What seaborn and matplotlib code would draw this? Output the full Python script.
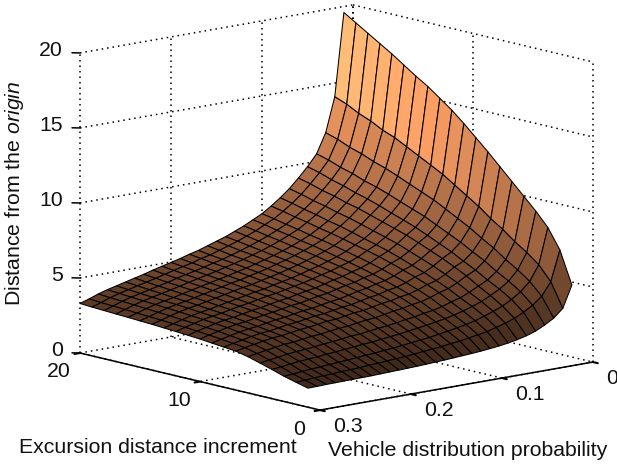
import numpy as np
import matplotlib
matplotlib.use("Agg")
import matplotlib.pyplot as plt
from matplotlib.colors import Normalize
from mpl_toolkits.mplot3d import proj3d
import seaborn as sns

# axis values
probability = [0.01, 0.02, 0.03, 0.04, 0.05, 0.06, 0.07, 0.08, 0.09, 0.10,
               0.11, 0.12, 0.13, 0.14, 0.15, 0.16, 0.17, 0.18, 0.19, 0.20,
               0.21, 0.22, 0.23, 0.24, 0.25, 0.26, 0.27, 0.28, 0.29, 0.30]
increment = [1, 2, 3, 4, 5, 6, 7, 8, 9, 10, 11, 12, 13, 14, 15, 16, 17, 18, 19, 20]

# distance from the origin: one row per probability, one column per increment
distance = [
    [5.05, 7.20, 8.50, 9.40, 10.20, 11.00, 11.80, 12.60, 13.35, 14.10, 14.80, 15.40, 16.00, 16.50, 17.05, 17.60, 18.10, 18.60, 19.10, 19.60],
    [3.60, 5.18, 6.12, 6.75, 7.28, 7.91, 8.43, 9.06, 9.59, 10.11, 10.64, 11.06, 11.48, 11.90, 12.32, 12.63, 13.05, 13.37, 13.79, 14.10],
    [3.05, 4.32, 5.12, 5.70, 6.20, 6.77, 7.24, 7.75, 8.18, 8.61, 9.03, 9.37, 9.70, 10.05, 10.37, 10.63, 10.96, 11.21, 11.55, 11.80],
    [2.70, 3.83, 4.54, 5.06, 5.51, 6.02, 6.44, 6.89, 7.27, 7.65, 8.03, 8.33, 8.63, 8.94, 9.23, 9.45, 9.75, 9.98, 10.27, 10.50],
    [2.40, 3.47, 4.13, 4.63, 5.05, 5.52, 5.92, 6.35, 6.71, 7.07, 7.42, 7.71, 7.99, 8.28, 8.55, 8.77, 9.04, 9.26, 9.54, 9.75],
    [2.20, 3.17, 3.80, 4.31, 4.75, 5.24, 5.64, 6.02, 6.35, 6.69, 7.00, 7.26, 7.51, 7.77, 8.02, 8.21, 8.46, 8.65, 8.90, 9.10],
    [2.05, 2.95, 3.55, 4.02, 4.44, 4.89, 5.26, 5.62, 5.93, 6.24, 6.54, 6.78, 7.02, 7.26, 7.49, 7.67, 7.90, 8.08, 8.31, 8.50],
    [1.93, 2.78, 3.34, 3.79, 4.18, 4.60, 4.95, 5.29, 5.58, 5.88, 6.15, 6.39, 6.60, 6.83, 7.05, 7.22, 7.44, 7.61, 7.82, 8.00],
    [1.84, 2.61, 3.14, 3.60, 4.01, 4.44, 4.79, 5.10, 5.37, 5.64, 5.89, 6.10, 6.29, 6.50, 6.69, 6.85, 7.04, 7.20, 7.39, 7.55],
    [1.77, 2.50, 3.00, 3.43, 3.81, 4.22, 4.55, 4.84, 5.09, 5.35, 5.58, 5.78, 5.97, 6.16, 6.34, 6.49, 6.67, 6.82, 7.00, 7.15],
    [1.71, 2.40, 2.88, 3.30, 3.66, 4.05, 4.37, 4.64, 4.89, 5.13, 5.35, 5.54, 5.72, 5.90, 6.08, 6.22, 6.39, 6.53, 6.71, 6.85],
    [1.66, 2.30, 2.76, 3.19, 3.57, 3.96, 4.28, 4.54, 4.76, 4.99, 5.19, 5.37, 5.52, 5.69, 5.85, 5.97, 6.13, 6.26, 6.41, 6.55],
    [1.62, 2.23, 2.67, 3.08, 3.45, 3.82, 4.13, 4.37, 4.59, 4.80, 5.00, 5.17, 5.32, 5.48, 5.63, 5.75, 5.90, 6.02, 6.17, 6.30],
    [1.58, 2.14, 2.56, 2.99, 3.37, 3.75, 4.06, 4.28, 4.49, 4.69, 4.87, 5.02, 5.16, 5.30, 5.44, 5.55, 5.68, 5.80, 5.93, 6.05],
    [1.54, 2.08, 2.49, 2.90, 3.26, 3.63, 3.93, 4.15, 4.34, 4.54, 4.71, 4.86, 4.99, 5.13, 5.26, 5.37, 5.50, 5.60, 5.73, 5.85],
    [1.51, 2.03, 2.42, 2.81, 3.17, 3.52, 3.81, 4.01, 4.20, 4.39, 4.55, 4.70, 4.82, 4.96, 5.08, 5.19, 5.31, 5.41, 5.54, 5.65],
    [1.48, 1.96, 2.34, 2.74, 3.11, 3.47, 3.76, 3.95, 4.12, 4.30, 4.45, 4.58, 4.70, 4.82, 4.93, 5.03, 5.14, 5.23, 5.34, 5.45],
    [1.45, 1.91, 2.28, 2.67, 3.03, 3.38, 3.66, 3.84, 4.01, 4.18, 4.33, 4.46, 4.57, 4.69, 4.80, 4.89, 5.00, 5.09, 5.20, 5.30],
    [1.43, 1.87, 2.23, 2.60, 2.94, 3.28, 3.55, 3.73, 3.89, 4.05, 4.19, 4.32, 4.42, 4.53, 4.64, 4.73, 4.83, 4.92, 5.02, 5.12],
    [1.41, 1.82, 2.16, 2.55, 2.91, 3.24, 3.52, 3.68, 3.84, 3.99, 4.12, 4.24, 4.33, 4.44, 4.53, 4.61, 4.70, 4.78, 4.88, 4.97],
    [1.39, 1.78, 2.12, 2.49, 2.83, 3.16, 3.42, 3.58, 3.73, 3.88, 4.00, 4.11, 4.20, 4.31, 4.39, 4.47, 4.56, 4.64, 4.73, 4.82],
    [1.37, 1.75, 2.07, 2.43, 2.76, 3.07, 3.33, 3.48, 3.62, 3.76, 3.88, 3.99, 4.08, 4.18, 4.26, 4.34, 4.42, 4.50, 4.58, 4.67],
    [1.35, 1.70, 2.01, 2.37, 2.70, 3.02, 3.28, 3.42, 3.55, 3.68, 3.79, 3.89, 3.96, 4.05, 4.13, 4.20, 4.27, 4.34, 4.42, 4.50],
    [1.34, 1.67, 1.97, 2.32, 2.63, 2.94, 3.18, 3.31, 3.44, 3.57, 3.67, 3.77, 3.84, 3.92, 3.99, 4.06, 4.13, 4.20, 4.27, 4.35],
    [1.33, 1.65, 1.93, 2.26, 2.56, 2.85, 3.09, 3.21, 3.33, 3.45, 3.55, 3.64, 3.71, 3.79, 3.86, 3.92, 3.99, 4.06, 4.13, 4.20],
    [1.32, 1.61, 1.88, 2.21, 2.52, 2.81, 3.04, 3.16, 3.27, 3.38, 3.47, 3.55, 3.61, 3.69, 3.75, 3.80, 3.86, 3.92, 3.98, 4.05],
    [1.31, 1.58, 1.84, 2.16, 2.45, 2.72, 2.94, 3.05, 3.16, 3.27, 3.35, 3.43, 3.49, 3.56, 3.61, 3.67, 3.72, 3.78, 3.84, 3.90],
    [1.30, 1.55, 1.79, 2.09, 2.36, 2.62, 2.83, 2.93, 3.03, 3.13, 3.20, 3.28, 3.33, 3.40, 3.45, 3.50, 3.56, 3.61, 3.66, 3.72],
    [1.28, 1.50, 1.72, 2.01, 2.28, 2.52, 2.72, 2.81, 2.90, 2.99, 3.06, 3.12, 3.17, 3.22, 3.27, 3.31, 3.36, 3.40, 3.44, 3.50],
    [1.27, 1.47, 1.68, 1.94, 2.18, 2.41, 2.59, 2.67, 2.75, 2.83, 2.89, 2.95, 3.00, 3.05, 3.09, 3.13, 3.17, 3.21, 3.25, 3.30],
]

# ticks
increment_ticks = [0, 10, 20]
probability_ticks = [0, 0.1, 0.2, 0.3]
distance_ticks = [0, 5, 10, 15, 20]

sns.set_style("white")
plt.rcParams['font.family'] = ['Liberation Sans', 'DejaVu Sans']
plt.rcParams['mathtext.fontset'] = 'custom'
plt.rcParams['mathtext.rm'] = 'Liberation Sans'
plt.rcParams['mathtext.it'] = 'Liberation Sans:italic'

W, H = 617, 465
fig = plt.figure(figsize=(W / 100, H / 100), dpi=100)
ax = fig.add_axes([0, 0, 1, 1], projection='3d', proj_type='ortho', computed_zorder=False)
ax.view_init(elev=11.8, azim=139.3)
ax.set_box_aspect((368, 360, 306.5))
ax.set_xlim(0, 20)
ax.set_ylim(0, 0.3)
ax.set_zlim(0, 20)
ax.set_axis_off()


def to_xy(x, y, z):
    u, v, _ = proj3d.proj_transform(x, y, z, ax.get_proj())
    return u, v


def to_pixels(x, y, z):
    return ax.transData.transform(to_xy(x, y, z))


# place the axes so the floor corners land where they are in the picture
fig.canvas.draw()
left = to_pixels(20, 0.3, 0)
right = to_pixels(0, 0, 0)
scale = (593 - 80) / (right[0] - left[0])
size = H * scale
cx = 80 - (left[0] - W / 2) * scale
cy = (H - 353) - (left[1] - H / 2) * scale
ax.set_position([(cx - size / 2) / W, (cy - size / 2) / H, size / W, size / H])
fig.canvas.draw()

D, P = np.meshgrid(increment, probability)
Z = np.array(distance)

dots = {'color': 'black', 'linestyle': (0, (1, 2.6)), 'linewidth': 1.1, 'zorder': 1}

# back walls and floor grid
for z in distance_ticks:
    ax.plot([20, 20], [0.3, 0], [z, z], **dots)
    ax.plot([20, 0], [0, 0], [z, z], **dots)
for p in probability_ticks:
    ax.plot([20, 20], [p, p], [0, 20], **dots)
    if p > 0:
        ax.plot([0, 20], [p, p], [0, 0], **dots)
for d in increment_ticks:
    ax.plot([d, d], [0, 0], [0, 20], **dots)
    if d < 20:
        ax.plot([d, d], [0, 0.3], [0, 0], **dots)

# surface, flat copper facets with black mesh
copper = sns.color_palette("copper", as_cmap=True)
norm = Normalize(vmin=-3.6, vmax=20.4)
ax.plot_surface(D, P, Z, facecolors=copper(norm(Z)), rstride=1, cstride=1, shade=False,
                edgecolor='black', linewidth=0.75, zorder=5)

# front axis lines and tick marks
ax.plot([20, 0], [0.3, 0.3], [0, 0], color='black', linewidth=1.1, zorder=6)
ax.plot([0, 0], [0.3, 0], [0, 0], color='black', linewidth=1.1, zorder=6)
for z in distance_ticks:
    ax.plot([20, 20.31], [0.3, 0.3047], [z, z], color='black', linewidth=1.1, zorder=6)
for d in increment_ticks:
    ax.plot([d, d], [0.3, 0.306], [0, 0], color='black', linewidth=1.5, zorder=6)
for p in probability_ticks:
    ax.plot([0, -0.4], [p, p], [0, 0], color='black', linewidth=1.5, zorder=6)

# tick labels, offset from the tick position in pixels
font = 15.3
for z in distance_ticks:
    ax.annotate(str(z), to_xy(20, 0.3, z), xytext=(-17, 2), textcoords='offset pixels',
                ha='right', va='center', fontsize=font, color='#111111', zorder=7)
for d in increment_ticks:
    ax.annotate(str(d), to_xy(d, 0.3, 0), xytext=(-21, -19), textcoords='offset pixels',
                ha='center', va='center', fontsize=font, color='#111111', zorder=7)
for p in probability_ticks:
    ax.annotate(str(p), to_xy(0, p, 0), xytext=(13, -16), textcoords='offset pixels',
                ha='left', va='center', fontsize=font, color='#111111', zorder=7)

# axis titles
fig.text(158 / W, 1 - 447 / H, "Excursion distance increment", ha='center', va='center',
         fontsize=font, color='#111111')
fig.text(467.5 / W, 1 - 450 / H, "Vehicle distribution probability", ha='center', va='center',
         fontsize=font, color='#111111')
fig.text(15 / W, 1 - 193 / H, r"Distance from the $\mathit{origin}$", rotation=90,
         ha='center', va='center', fontsize=font, color='#111111')

fig.savefig("out.png", dpi=100)
